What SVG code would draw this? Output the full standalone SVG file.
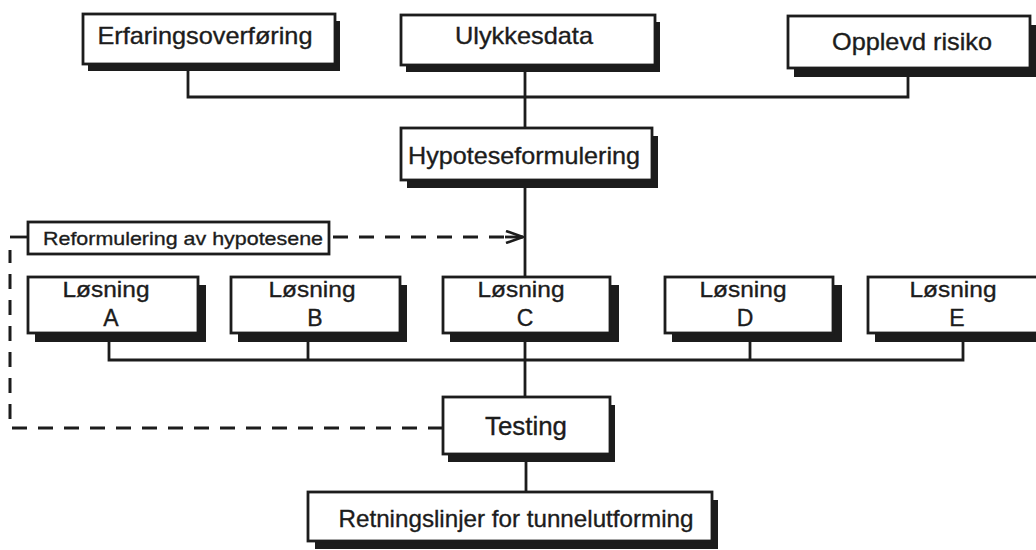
<svg xmlns="http://www.w3.org/2000/svg" width="1036" height="550" viewBox="0 0 1036 550">
<style>
.box{fill:#fff;stroke:#1c1c1c;stroke-width:2.8}
.sh{fill:#1c1c1c}
.t{font-family:"Liberation Sans",Arial,Helvetica,sans-serif;fill:#1c1c1c;stroke:#1c1c1c;stroke-width:0.35;text-anchor:middle}
.ln{fill:none;stroke:#1c1c1c;stroke-width:2.8}
.dash{fill:none;stroke:#1c1c1c;stroke-width:3;stroke-dasharray:15 11}
</style>
<defs>
<marker id="arr" viewBox="0 0 20 14" refX="19" refY="7" markerWidth="20" markerHeight="14" markerUnits="userSpaceOnUse" orient="auto">
<path d="M2 1 L19 7 L2 13" fill="none" stroke="#1c1c1c" stroke-width="2.6"/>
</marker>
</defs>
<g id="connectors">
<path class="ln" d="M188 70 V97 H908 V76"/>
<path class="ln" d="M525 72 V128"/>
<path class="ln" d="M525 187 V277"/>
<path class="ln" d="M525 341 V398"/>
<path class="ln" d="M109 341 V360 H963 V341"/>
<path class="ln" d="M308 341 V360"/>
<path class="ln" d="M750 341 V360"/>
<path class="ln" d="M526 462 V493"/>
<path class="dash" d="M333 237 H507"/>
<path class="ln" d="M505 237 H523" marker-end="url(#arr)"/>
<path class="ln" d="M10 237 H27"/>
<path class="dash" d="M443 428 H10 V250"/>
</g>
<g id="erfaring">
<rect class="sh" x="88" y="21" width="252" height="50"/>
<rect class="box" x="83" y="14" width="252" height="50"/>
<text class="t" x="205" y="44" font-size="24" textLength="215" lengthAdjust="spacingAndGlyphs">Erfaringsoverføring</text>
</g>
<g id="ulykkesdata">
<rect class="sh" x="406" y="22" width="254" height="50"/>
<rect class="box" x="401" y="15" width="254" height="50"/>
<text class="t" x="524" y="44" font-size="24" textLength="138" lengthAdjust="spacingAndGlyphs">Ulykkesdata</text>
</g>
<g id="opplevd">
<rect class="sh" x="794" y="25" width="242" height="52"/>
<rect class="box" x="788" y="16" width="242" height="52"/>
<text class="t" x="912" y="50" font-size="24" textLength="160" lengthAdjust="spacingAndGlyphs">Opplevd risiko</text>
</g>
<g id="hypotese">
<rect class="sh" x="407" y="136" width="251" height="52"/>
<rect class="box" x="401" y="128" width="251" height="52"/>
<text class="t" x="524" y="164" font-size="24" textLength="232" lengthAdjust="spacingAndGlyphs">Hypoteseformulering</text>
</g>
<g id="reformulering">
<rect class="box" x="28" y="222" width="301" height="32"/>
<text class="t" x="183" y="245" font-size="19" textLength="280" lengthAdjust="spacingAndGlyphs">Reformulering av hypotesene</text>
</g>
<g id="losningA">
<rect class="sh" x="35" y="285" width="171" height="57"/>
<rect class="box" x="28" y="277" width="170" height="56"/>
<text class="t" x="106" y="297" font-size="22" textLength="87" lengthAdjust="spacingAndGlyphs">Løsning</text>
<text class="t" x="111" y="326" font-size="23">A</text>
</g>
<g id="losningB">
<rect class="sh" x="238" y="285" width="169" height="57"/>
<rect class="box" x="231" y="277" width="169" height="56"/>
<text class="t" x="312" y="297" font-size="22" textLength="87" lengthAdjust="spacingAndGlyphs">Løsning</text>
<text class="t" x="315" y="326" font-size="23">B</text>
</g>
<g id="losningC">
<rect class="sh" x="450" y="285" width="169" height="57"/>
<rect class="box" x="443" y="277" width="167" height="56"/>
<text class="t" x="521" y="297" font-size="22" textLength="87" lengthAdjust="spacingAndGlyphs">Løsning</text>
<text class="t" x="525" y="326" font-size="23">C</text>
</g>
<g id="losningD">
<rect class="sh" x="672" y="285" width="170" height="57"/>
<rect class="box" x="665" y="277" width="168" height="56"/>
<text class="t" x="743" y="297" font-size="22" textLength="87" lengthAdjust="spacingAndGlyphs">Løsning</text>
<text class="t" x="745" y="326" font-size="23">D</text>
</g>
<g id="losningE">
<rect class="sh" x="875" y="285" width="170" height="57"/>
<rect class="box" x="868" y="277" width="180" height="56"/>
<text class="t" x="953" y="297" font-size="22" textLength="87" lengthAdjust="spacingAndGlyphs">Løsning</text>
<text class="t" x="957" y="326" font-size="23">E</text>
</g>
<g id="testing">
<rect class="sh" x="448" y="405" width="167" height="57"/>
<rect class="box" x="443" y="397" width="167" height="57"/>
<text class="t" x="526" y="435" font-size="25" textLength="82" lengthAdjust="spacingAndGlyphs">Testing</text>
</g>
<g id="retningslinjer">
<rect class="sh" x="315" y="500" width="403" height="49"/>
<rect class="box" x="308" y="492" width="404" height="49"/>
<text class="t" x="516" y="527" font-size="24" textLength="355" lengthAdjust="spacingAndGlyphs">Retningslinjer for tunnelutforming</text>
</g>
</svg>
